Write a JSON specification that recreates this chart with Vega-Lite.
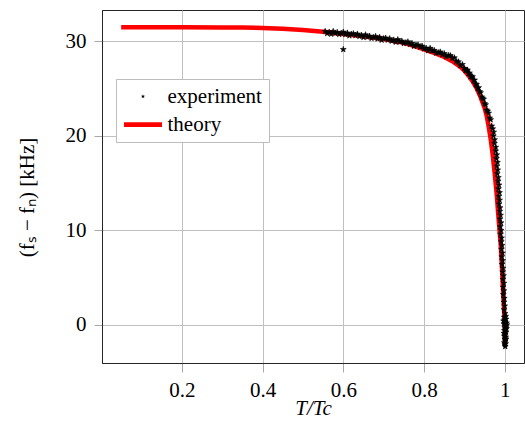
{
  "$schema": "https://vega.github.io/schema/vega-lite/v6.json",
  "width": 422,
  "height": 353,
  "autosize": {"type": "none"},
  "padding": {"left": 102, "top": 10, "right": 1, "bottom": 65},
  "background": "white",
  "datasets": {
    "theory": [
      {"T": 0.05, "v": 31.5}, {"T": 0.1, "v": 31.5}, {"T": 0.2, "v": 31.5}, {"T": 0.3, "v": 31.49},
      {"T": 0.35, "v": 31.47}, {"T": 0.4, "v": 31.43}, {"T": 0.45, "v": 31.35}, {"T": 0.5, "v": 31.22},
      {"T": 0.55, "v": 31.03}, {"T": 0.6, "v": 30.8}, {"T": 0.65, "v": 30.55}, {"T": 0.7, "v": 30.25},
      {"T": 0.75, "v": 29.85}, {"T": 0.78, "v": 29.45}, {"T": 0.8, "v": 29.15}, {"T": 0.83, "v": 28.7},
      {"T": 0.85, "v": 28.35}, {"T": 0.87, "v": 27.9}, {"T": 0.89, "v": 27.3}, {"T": 0.9, "v": 26.9},
      {"T": 0.91, "v": 26.4}, {"T": 0.92, "v": 25.8}, {"T": 0.93, "v": 25.05}, {"T": 0.94, "v": 24.1},
      {"T": 0.95, "v": 22.95}, {"T": 0.955, "v": 22.15}, {"T": 0.96, "v": 21.0}, {"T": 0.965, "v": 19.65},
      {"T": 0.97, "v": 18.0}, {"T": 0.975, "v": 16.0}, {"T": 0.98, "v": 13.8}, {"T": 0.985, "v": 11.0},
      {"T": 0.99, "v": 8.4}, {"T": 0.993, "v": 6.0}, {"T": 0.996, "v": 3.4}, {"T": 0.998, "v": 1.7},
      {"T": 1.0, "v": 0.0}, {"T": 1.0005, "v": -2.0}
    ],
    "exp": [
      {"T": 0.555, "v": 31.07}, {"T": 0.56, "v": 30.85}, {"T": 0.565, "v": 30.99}, {"T": 0.57, "v": 30.78},
      {"T": 0.575, "v": 31.07}, {"T": 0.58, "v": 30.86}, {"T": 0.585, "v": 30.97}, {"T": 0.59, "v": 30.76},
      {"T": 0.595, "v": 30.86}, {"T": 0.6, "v": 30.99}, {"T": 0.605, "v": 30.74}, {"T": 0.61, "v": 30.9},
      {"T": 0.615, "v": 30.61}, {"T": 0.62, "v": 30.78}, {"T": 0.625, "v": 30.83}, {"T": 0.63, "v": 30.64},
      {"T": 0.635, "v": 30.79}, {"T": 0.64, "v": 30.55}, {"T": 0.645, "v": 30.67}, {"T": 0.65, "v": 30.44},
      {"T": 0.655, "v": 30.71}, {"T": 0.66, "v": 30.48}, {"T": 0.665, "v": 30.57}, {"T": 0.67, "v": 30.34},
      {"T": 0.675, "v": 30.43}, {"T": 0.68, "v": 30.54}, {"T": 0.685, "v": 30.29}, {"T": 0.69, "v": 30.44},
      {"T": 0.695, "v": 30.15}, {"T": 0.7, "v": 30.31}, {"T": 0.705, "v": 30.36}, {"T": 0.71, "v": 30.16},
      {"T": 0.715, "v": 30.3}, {"T": 0.72, "v": 30.05}, {"T": 0.725, "v": 30.16}, {"T": 0.73, "v": 29.93},
      {"T": 0.735, "v": 30.2}, {"T": 0.74, "v": 29.96}, {"T": 0.745, "v": 30.04}, {"T": 0.75, "v": 29.79},
      {"T": 0.755, "v": 29.87}, {"T": 0.76, "v": 29.96}, {"T": 0.765, "v": 29.69}, {"T": 0.77, "v": 29.81},
      {"T": 0.775, "v": 29.5}, {"T": 0.78, "v": 29.63}, {"T": 0.785, "v": 29.64}, {"T": 0.79, "v": 29.4},
      {"T": 0.795, "v": 29.51}, {"T": 0.8, "v": 29.22}, {"T": 0.805, "v": 29.3}, {"T": 0.81, "v": 29.04},
      {"T": 0.815, "v": 29.28}, {"T": 0.82, "v": 29.01}, {"T": 0.825, "v": 29.06}, {"T": 0.83, "v": 28.78},
      {"T": 0.835, "v": 28.83}, {"T": 0.84, "v": 28.89}, {"T": 0.845, "v": 28.61}, {"T": 0.85, "v": 28.72},
      {"T": 0.855, "v": 28.4}, {"T": 0.86, "v": 28.53}, {"T": 0.865, "v": 28.51}, {"T": 0.87, "v": 28.24},
      {"T": 0.875, "v": 28.27}, {"T": 0.88, "v": 27.9}, {"T": 0.885, "v": 27.85}, {"T": 0.89, "v": 27.45},
      {"T": 0.895, "v": 27.56}, {"T": 0.9, "v": 27.16},
      {"T": 0.9025, "v": 26.96}, {"T": 0.905, "v": 26.95}, {"T": 0.9075, "v": 26.97}, {"T": 0.91, "v": 26.62},
      {"T": 0.9125, "v": 26.66}, {"T": 0.915, "v": 26.27}, {"T": 0.9175, "v": 26.32}, {"T": 0.92, "v": 26.26},
      {"T": 0.9225, "v": 25.9}, {"T": 0.925, "v": 25.9}, {"T": 0.9275, "v": 25.49}, {"T": 0.93, "v": 25.45},
      {"T": 0.9325, "v": 25.03}, {"T": 0.935, "v": 25.11}, {"T": 0.9375, "v": 24.69}, {"T": 0.94, "v": 24.58},
      {"T": 0.9425, "v": 24.13}, {"T": 0.945, "v": 24.0}, {"T": 0.9475, "v": 23.89}, {"T": 0.95, "v": 23.42},
      {"T": 0.9525, "v": 23.3}, {"T": 0.955, "v": 22.74}, {"T": 0.9575, "v": 22.63}, {"T": 0.96, "v": 22.41},
      {"T": 0.9625, "v": 21.89}, {"T": 0.965, "v": 21.72}, {"T": 0.9675, "v": 21.05}, {"T": 0.97, "v": 20.75},
      {"T": 0.9724, "v": 20.4}, {"T": 0.9717, "v": 20.0}, {"T": 0.9747, "v": 19.6}, {"T": 0.9743, "v": 19.2},
      {"T": 0.9775, "v": 18.8}, {"T": 0.9774, "v": 18.4}, {"T": 0.9799, "v": 18.0}, {"T": 0.9792, "v": 17.6},
      {"T": 0.9818, "v": 17.2}, {"T": 0.9803, "v": 16.8}, {"T": 0.9824, "v": 16.4}, {"T": 0.9813, "v": 16.0},
      {"T": 0.984, "v": 15.6}, {"T": 0.9835, "v": 15.2}, {"T": 0.9855, "v": 14.8}, {"T": 0.9843, "v": 14.4},
      {"T": 0.9868, "v": 14.0}, {"T": 0.9851, "v": 13.6}, {"T": 0.987, "v": 13.2}, {"T": 0.9857, "v": 12.8},
      {"T": 0.9882, "v": 12.4}, {"T": 0.9875, "v": 12.0}, {"T": 0.9894, "v": 11.6}, {"T": 0.988, "v": 11.2},
      {"T": 0.9905, "v": 10.8}, {"T": 0.9888, "v": 10.4}, {"T": 0.9907, "v": 10.0}, {"T": 0.9894, "v": 9.6},
      {"T": 0.9919, "v": 9.2}, {"T": 0.9912, "v": 8.8}, {"T": 0.9931, "v": 8.4}, {"T": 0.9917, "v": 8.0},
      {"T": 0.9942, "v": 7.6}, {"T": 0.9924, "v": 7.2}, {"T": 0.9944, "v": 6.8}, {"T": 0.993, "v": 6.4},
      {"T": 0.9955, "v": 6.0}, {"T": 0.9947, "v": 5.6}, {"T": 0.9966, "v": 5.2}, {"T": 0.9952, "v": 4.8},
      {"T": 0.9976, "v": 4.4}, {"T": 0.9957, "v": 4.0}, {"T": 0.9976, "v": 3.6}, {"T": 0.9962, "v": 3.2},
      {"T": 0.9986, "v": 2.8}, {"T": 0.9978, "v": 2.4}, {"T": 0.9996, "v": 2.0}, {"T": 0.9982, "v": 1.6},
      {"T": 1.0006, "v": 1.2}, {"T": 0.9988, "v": 0.8},
      {"T": 0.999, "v": 0.5}, {"T": 1.001, "v": 0.3}, {"T": 1.003, "v": 0.6}, {"T": 0.998, "v": 0.1},
      {"T": 1.002, "v": -0.1}, {"T": 1.004, "v": 0.2}, {"T": 1.0, "v": -0.3}, {"T": 0.999, "v": -0.6},
      {"T": 1.002, "v": -0.5}, {"T": 1.003, "v": -0.8}, {"T": 1.001, "v": -1.0}, {"T": 0.999, "v": -1.2},
      {"T": 1.002, "v": -1.3}, {"T": 1.0, "v": -1.5}, {"T": 1.001, "v": -1.7}, {"T": 0.999, "v": -1.9},
      {"T": 1.0, "v": -2.1}, {"T": 1.001, "v": -2.3}, {"T": 1.002, "v": -2.0}, {"T": 1.004, "v": -0.4},
      {"T": 1.005, "v": 0.0}, {"T": 0.998, "v": -0.9}, {"T": 1.003, "v": -1.5}, {"T": 1.0, "v": 0.8},
      {"T": 1.002, "v": 0.9}, {"T": 0.997, "v": 0.4},
      {"T": 0.6, "v": 29.15}
    ]
  },
  "layer": [
    {
      "data": {"name": "theory"},
      "mark": {"type": "line", "color": "#ff0000", "strokeWidth": 4.5, "strokeCap": "butt", "clip": true},
      "encoding": {
        "x": {"field": "T", "type": "quantitative"},
        "y": {"field": "v", "type": "quantitative"},
        "color": {
          "datum": "theory",
          "legend": {
            "title": null, "orient": "none", "legendX": 14, "legendY": 69,
            "padding": 7, "symbolSize": 361, "symbolOffset": 9.5, "labelOffset": 14, "rowPadding": 6,
            "fillColor": "white", "strokeColor": "#bdbdbd", "labelFontSize": 21, "labelFont": "Liberation Serif",
            "labelColor": "black",
            "encode": {
              "symbols": {
                "update": {
                  "shape": {"signal": "datum.value === 'theory' ? 'M-2,-0.25H2V0.25H-2Z' : 'M0,-1L0.2245,-0.309L0.951,-0.309L0.363,0.118L0.588,0.809L0,0.382L-0.588,0.809L-0.363,0.118L-0.951,-0.309L-0.2245,-0.309Z'"},
                  "size": {"signal": "datum.value === 'theory' ? 361 : 20"},
                  "fill": {"signal": "datum.value === 'theory' ? '#ff0000' : '#000000'"},
                  "stroke": {"value": "transparent"},
                  "strokeWidth": {"value": 0},
                  "opacity": {"value": 1}
                }
              }
            }
          }
        }
      }
    },
    {
      "data": {"name": "exp"},
      "mark": {"type": "point", "filled": true, "size": 38, "opacity": 1, "clip": true,
        "stroke": "#000000", "strokeWidth": 0.6,
        "shape": "M0,-1L0.2245,-0.309L0.951,-0.309L0.363,0.118L0.588,0.809L0,0.382L-0.588,0.809L-0.363,0.118L-0.951,-0.309L-0.2245,-0.309Z"},
      "encoding": {
        "x": {
          "field": "T", "type": "quantitative",
          "scale": {"domain": [0.0025, 1.0475], "nice": false, "zero": false},
          "axis": {"values": [0.2, 0.4, 0.6, 0.8, 1], "format": "~g", "title": "T/Tc",
            "titleFontStyle": "italic", "tickSize": 9, "labelPadding": 7,
            "titleX": 211, "titleY": 45, "titleBaseline": "middle", "titleAlign": "center"}
        },
        "y": {
          "field": "v", "type": "quantitative",
          "scale": {"domain": [-4.05, 33.33], "nice": false, "zero": false},
          "axis": {"values": [0, 10, 20, 30], "title": "(fₛ − fₙ) [kHz]", "tickSize": 8, "labelPadding": 8,
            "titleX": -75, "titleY": 187, "titleBaseline": "middle", "titleAlign": "center", "titleAngle": -90}
        },
        "color": {
          "datum": "experiment",
          "scale": {"domain": ["experiment", "theory"], "range": ["#000000", "#ff0000"]},
          "legend": {
            "title": null, "orient": "none", "legendX": 14, "legendY": 69,
            "padding": 7, "symbolSize": 361, "symbolOffset": 9.5, "labelOffset": 14, "rowPadding": 6,
            "fillColor": "white", "strokeColor": "#bdbdbd", "labelFontSize": 21, "labelFont": "Liberation Serif",
            "labelColor": "black",
            "encode": {
              "symbols": {
                "update": {
                  "shape": {"signal": "datum.value === 'theory' ? 'M-2,-0.25H2V0.25H-2Z' : 'M0,-1L0.2245,-0.309L0.951,-0.309L0.363,0.118L0.588,0.809L0,0.382L-0.588,0.809L-0.363,0.118L-0.951,-0.309L-0.2245,-0.309Z'"},
                  "size": {"signal": "datum.value === 'theory' ? 361 : 20"},
                  "fill": {"signal": "datum.value === 'theory' ? '#ff0000' : '#000000'"},
                  "stroke": {"value": "transparent"},
                  "strokeWidth": {"value": 0},
                  "opacity": {"value": 1}
                }
              }
            }
          }
        }
      }
    }
  ],
  "config": {
    "view": {"stroke": "#262626", "strokeWidth": 1},
    "axis": {
      "labelFont": "Liberation Serif", "labelFontSize": 21, "labelColor": "black",
      "titleFont": "Liberation Serif", "titleFontSize": 21, "titleColor": "black", "titleFontWeight": "normal",
      "gridColor": "#c0c0c0", "gridWidth": 1, "tickColor": "#a8a8a8", "domainColor": "#262626"
    }
  }
}
